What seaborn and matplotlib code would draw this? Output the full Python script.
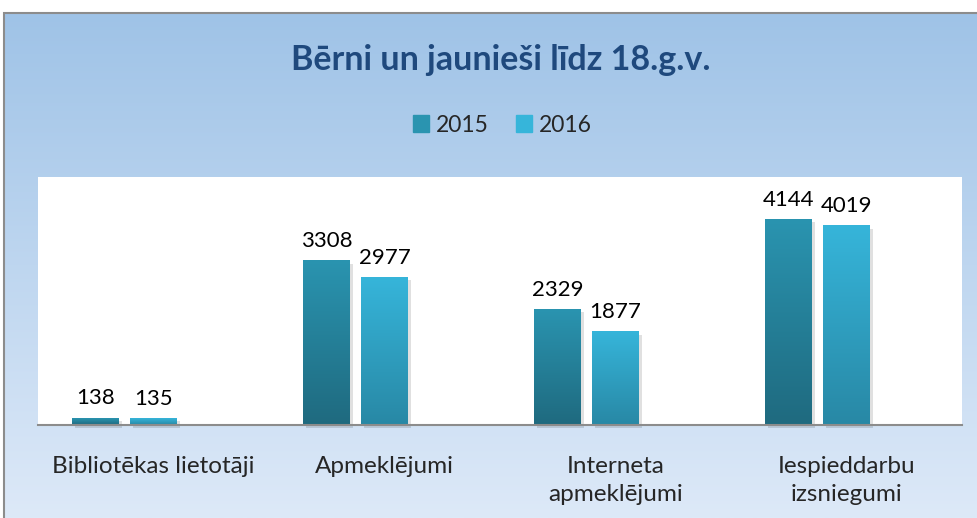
import matplotlib
matplotlib.use('Agg')
import matplotlib.pyplot as plt
import matplotlib.patches as mpatches
from matplotlib.colors import LinearSegmentedColormap
import seaborn as sns
import pandas as pd
import numpy as np

# Dati
categories = ['Bibliotēkas lietotāji', 'Apmeklējumi', 'Interneta\napmeklējumi', 'Iespieddarbu\nizsniegumi']
years = ['2015', '2016']
v2015 = [138, 3308, 2329, 4144]
v2016 = [135, 2977, 1877, 4019]
title = 'Bērni un jaunieši līdz 18.g.v.'

df = pd.DataFrame({
    'kategorija': categories * 2,
    'gads': [years[0]] * 4 + [years[1]] * 4,
    'vertiba': v2015 + v2016,
})

sns.set_style('white')
plt.rcParams['font.family'] = ['Lato', 'DejaVu Sans']

fig = plt.figure(figsize=(9.78, 5.18), dpi=100)

# fona gradients
bg = fig.add_axes([4 / 978, 0, 1 - 4 / 978, 505 / 518], zorder=-2)
grad = np.linspace(0, 1, 256).reshape(-1, 1)
bg_cmap = LinearSegmentedColormap.from_list('bg', ['#9fc3e7', '#dde9f8'])
bg.imshow(grad, aspect='auto', cmap=bg_cmap, extent=[0, 1, 0, 1], origin='upper')
bg.set_axis_off()
fig.add_artist(mpatches.Rectangle((4 / 978, -0.01), 1, 505 / 518 + 0.01, transform=fig.transFigure,
                                  fill=False, edgecolor='#8c8c8c', linewidth=1.5, zorder=-1))

ax = fig.add_axes([38 / 978, 1 - 425 / 518, 924 / 978, 248 / 518])
ax.set_facecolor('white')

sns.barplot(data=df, x='kategorija', y='vertiba', hue='gads', order=categories,
            hue_order=years + ['tukss'], width=0.753, gap=0.19,
            palette=['#237f97', '#2ea3c6', '#ffffff'], legend=False, ax=ax)

colors = {0: ('#1f6a7f', '#2a94b0'), 1: ('#2888a5', '#36b5da')}
bars = [p for p in ax.patches if p.get_height() > 0]
for i, p in enumerate(bars):
    s = i // 4
    cm = LinearSegmentedColormap.from_list('b%d' % s, colors[s])
    x, w, h = p.get_x(), p.get_width(), p.get_height()
    # vieglas ēnas
    ax.add_patch(mpatches.Rectangle((x + 0.012, -60), w, h, facecolor='#000000',
                                    alpha=0.12, edgecolor='none', zorder=2, clip_on=False))
    ax.imshow(grad, aspect='auto', cmap=cm, extent=[x, x + w, 0, h], origin='lower', zorder=3)
    p.set_visible(False)

for c in ax.containers:
    labs = ['%d' % v if v > 0 else '' for v in c.datavalues]
    ax.bar_label(c, labels=labs, padding=7, fontsize=16, color='black')

ax.set_xlim(-0.5, 3.5)
ax.set_ylim(0, 5000)
ax.set_yticks([])
ax.set_xlabel('')
ax.set_ylabel('')
ax.tick_params(axis='x', length=0, pad=22, labelsize=17.5)
for t in ax.get_xticklabels():
    t.set_linespacing(1.45)
for s in ['top', 'right', 'left']:
    ax.spines[s].set_visible(False)
ax.spines['bottom'].set_color('#8c8c8c')
ax.spines['bottom'].set_linewidth(1.5)
ax.spines['bottom'].set_zorder(4)

fig.text(0.512, 1 - 60 / 518, title, ha='center', va='center', fontsize=24.5,
         fontweight='bold', color='#1f497d')

handles = [mpatches.Patch(color=colors[0][1], label=years[0]),
           mpatches.Patch(color=colors[1][1], label=years[1])]
fig.legend(handles=handles, loc='center', bbox_to_anchor=(0.514, 1 - 125 / 518), ncol=2,
           frameon=False, fontsize=16.5, handlelength=0.7, handleheight=0.7,
           handletextpad=0.3, columnspacing=1.2)

fig.savefig('out.png', dpi=100)
